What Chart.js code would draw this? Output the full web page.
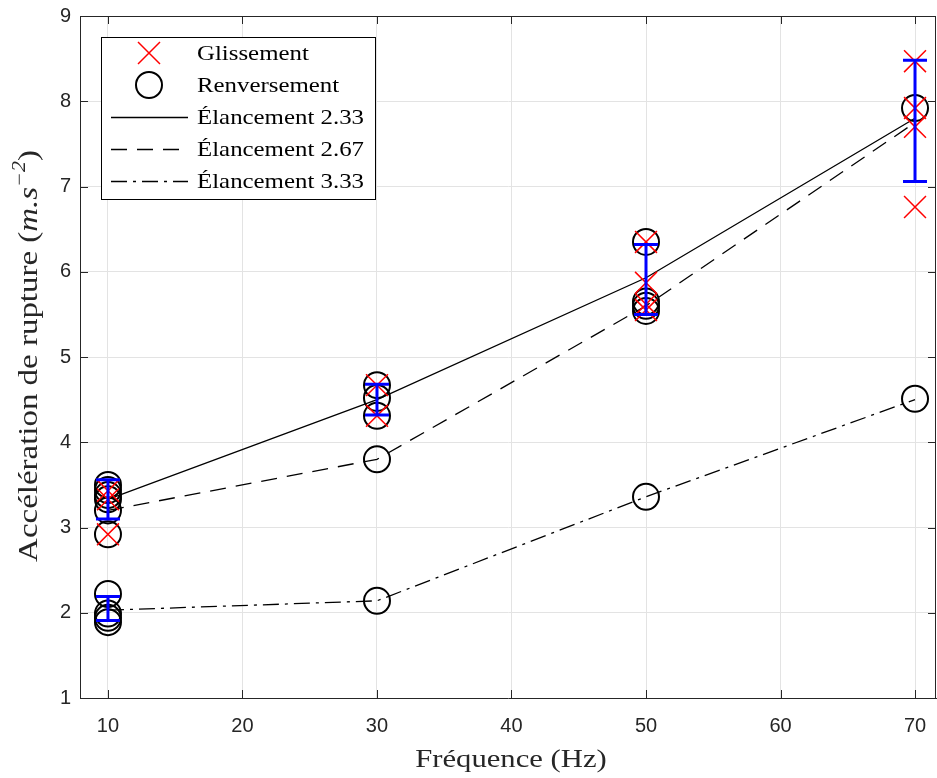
<!DOCTYPE html>
<html><head><meta charset="utf-8">
<script src="https://cdn.jsdelivr.net/npm/chart.js@4/dist/chart.umd.min.js"></script>
<style>html,body{margin:0;padding:0;background:#fff;overflow:hidden}#wrap{width:937px;height:778px;position:relative}canvas{display:block}</style>
</head><body><div id="wrap"><canvas id="c" width="937" height="778" style="width:937px;height:778px"></canvas></div>
<script>
const xTicks = [10, 20, 30, 40, 50, 60, 70];
const yTicks = [1, 2, 3, 4, 5, 6, 7, 8, 9];
const freq = [10, 30, 50, 70];
const el233 = [3.33, 4.50, 5.93, 7.80];
const el267 = [3.20, 3.80, 5.60, 7.75];
const el333 = [2.03, 2.14, 3.36, 4.50];
const glisX = [10, 10, 10, 30, 30, 50, 50, 50, 50, 70, 70, 70, 70];
const glisY = [3.43, 3.33, 2.92, 4.67, 4.31, 6.35, 5.87, 5.62, 5.55, 8.47, 7.92, 7.70, 6.76];
const renvX = [10, 10, 10, 10, 10, 10, 10, 10, 10, 10, 30, 30, 30, 30, 30, 50, 50, 50, 50, 50, 70, 70];
const renvY = [3.50, 3.44, 3.38, 3.33, 3.20, 2.92, 2.22, 1.99, 1.94, 1.89, 4.67, 4.52, 4.31, 3.80, 2.14, 6.35, 5.65, 5.60, 5.54, 3.36, 7.92, 4.51];
const errX = [10, 10, 30, 50, 70];
const errLow = [3.10, 1.91, 4.32, 5.50, 7.06];
const errHigh = [3.56, 2.19, 4.68, 6.32, 8.48];
const legendLabels = ['Glissement', 'Renversement', 'Élancement 2.33', 'Élancement 2.67', 'Élancement 3.33'];
const xTitle = 'Fréquence (Hz)';
const yTitleParts = ['Accélération de rupture (', 'm.s', '−2', ')'];

const pts = (xs, ys) => xs.map((x, i) => ({x: x, y: ys[i]}));
const AX = '#262626';
const SERIF = '"Liberation Serif", "DejaVu Serif", serif';

const errorBars = {
  id: 'errorBars',
  afterDatasetsDraw(chart) {
    const ctx = chart.ctx, xs = chart.scales.x, ys = chart.scales.y;
    ctx.save();
    ctx.strokeStyle = '#0000ff';
    ctx.lineWidth = 3;
    errX.forEach((v, i) => {
      const px = xs.getPixelForValue(v);
      const lo = ys.getPixelForValue(errLow[i]);
      const hi = ys.getPixelForValue(errHigh[i]);
      ctx.beginPath();
      ctx.moveTo(px, lo); ctx.lineTo(px, hi);
      ctx.moveTo(px - 12, lo); ctx.lineTo(px + 12, lo);
      ctx.moveTo(px - 12, hi); ctx.lineTo(px + 12, hi);
      ctx.stroke();
    });
    ctx.restore();
  }
};

function stretchedText(ctx, text, x, y, sx) {
  ctx.save();
  ctx.translate(x, y);
  ctx.scale(sx, 1);
  ctx.fillText(text, 0, 0);
  ctx.restore();
}

const frame = {
  id: 'frame',
  afterDraw(chart) {
    const ctx = chart.ctx, a = chart.chartArea, xs = chart.scales.x, ys = chart.scales.y;
    ctx.save();
    ctx.strokeStyle = AX;
    ctx.lineWidth = 1;
    ctx.beginPath();
    ctx.moveTo(a.left + 0.5, a.top + 0.5); ctx.lineTo(a.right - 0.5, a.top + 0.5); ctx.lineTo(a.right - 0.5, a.bottom);
    const tl = 8;
    xTicks.forEach(v => {
      const p = Math.round(xs.getPixelForValue(v)) + 0.5;
      ctx.moveTo(p, a.bottom); ctx.lineTo(p, a.bottom - tl);
      ctx.moveTo(p, a.top); ctx.lineTo(p, a.top + tl);
    });
    yTicks.forEach(v => {
      const p = Math.round(ys.getPixelForValue(v)) + 0.5;
      ctx.moveTo(a.left, p); ctx.lineTo(a.left + tl, p);
      ctx.moveTo(a.right, p); ctx.lineTo(a.right - tl, p);
    });
    ctx.stroke();

    ctx.fillStyle = AX;
    ctx.textBaseline = 'middle';
    ctx.textAlign = 'center';
    ctx.font = '26px ' + SERIF;
    stretchedText(ctx, xTitle, (a.left + a.right) / 2 + 3, 760, 1.18);

    ctx.save();
    ctx.translate(30, 356);
    ctx.rotate(-Math.PI / 2);
    ctx.scale(1.22, 1);
    const fN = '27px ' + SERIF, fI = 'italic 27px ' + SERIF, fS = 'italic 18px ' + SERIF;
    ctx.font = fN; const w0 = ctx.measureText(yTitleParts[0]).width, w3 = ctx.measureText(yTitleParts[3]).width;
    ctx.font = fI; const w1 = ctx.measureText(yTitleParts[1]).width;
    ctx.font = fS; const w2 = ctx.measureText(yTitleParts[2]).width;
    let x = -(w0 + w1 + w2 + w3) / 2;
    ctx.textAlign = 'left';
    ctx.font = fN; ctx.fillText(yTitleParts[0], x, 0); x += w0;
    ctx.font = fI; ctx.fillText(yTitleParts[1], x, 0); x += w1;
    ctx.font = fS; ctx.fillText(yTitleParts[2], x, -10); x += w2;
    ctx.font = fN; ctx.fillText(yTitleParts[3], x, 0);
    ctx.restore();

    const L = 101, T = 37, W = 274, H = 162;
    ctx.fillStyle = '#fff';
    ctx.fillRect(L, T, W, H);
    ctx.strokeStyle = '#000';
    ctx.lineWidth = 1;
    ctx.strokeRect(L + 0.5, T + 0.5, W, H);
    const rows = [53, 85, 117, 149, 181];
    const mx = 149;
    ctx.strokeStyle = '#ff0000'; ctx.lineWidth = 1.5;
    ctx.beginPath();
    ctx.moveTo(mx - 11, rows[0] - 11); ctx.lineTo(mx + 11, rows[0] + 11);
    ctx.moveTo(mx + 11, rows[0] - 11); ctx.lineTo(mx - 11, rows[0] + 11);
    ctx.stroke();
    ctx.strokeStyle = '#000'; ctx.lineWidth = 2;
    ctx.beginPath(); ctx.arc(mx, rows[1], 13, 0, Math.PI * 2); ctx.stroke();
    const dashes = [[], [16, 10], [16, 6, 3, 6]];
    ctx.lineWidth = 1.3;
    dashes.forEach((d, i) => {
      ctx.setLineDash(d);
      ctx.beginPath();
      ctx.moveTo(111, rows[i + 2] + 0.5); ctx.lineTo(188, rows[i + 2] + 0.5);
      ctx.stroke();
    });
    ctx.setLineDash([]);
    ctx.fillStyle = '#000';
    ctx.font = '22px ' + SERIF;
    ctx.textAlign = 'left';
    legendLabels.forEach((t, i) => stretchedText(ctx, t, 197, rows[i] + 1, 1.13));
    ctx.restore();
  }
};

const lineDs = (label, ys, dash) => ({
  type: 'scatter', label: label, data: pts(freq, ys), showLine: true,
  borderColor: '#000', backgroundColor: '#000', borderWidth: 1.3, borderDash: dash,
  pointRadius: 0, pointHoverRadius: 0, order: 3
});

const noPad = s => { s.paddingLeft = 0; s.paddingRight = 0; s.paddingTop = 0; s.paddingBottom = 0; };

new Chart(document.getElementById('c'), {
  type: 'scatter',
  data: {
    datasets: [
      lineDs(legendLabels[2], el233, []),
      lineDs(legendLabels[3], el267, [16, 10]),
      lineDs(legendLabels[4], el333, [16, 6, 3, 6]),
      { label: legendLabels[1], data: pts(renvX, renvY), pointStyle: 'circle', pointRadius: 13,
        borderColor: '#000', backgroundColor: 'rgba(0,0,0,0)', pointBorderWidth: 2, borderWidth: 2, order: 2 },
      { label: legendLabels[0], data: pts(glisX, glisY), pointStyle: 'crossRot', pointRadius: 15.5,
        borderColor: '#ff0000', backgroundColor: '#ff0000', pointBorderWidth: 1.5, borderWidth: 1.5, order: 1 }
    ]
  },
  options: {
    responsive: false, animation: false, devicePixelRatio: 1,
    layout: { autoPadding: false, padding: { top: 16, right: 1, left: 0, bottom: 0 } },
    plugins: { legend: { display: false }, tooltip: { enabled: false } },
    scales: {
      x: {
        type: 'linear', min: 7.92, max: 71.56,
        afterBuildTicks: s => { s.ticks = xTicks.map(v => ({ value: v })); },
        afterFit: s => { s.height = 80; noPad(s); },
        grid: { color: '#e3e3e3', drawTicks: false },
        border: { color: AX, width: 1 },
        ticks: { color: AX, font: { family: '"Liberation Sans", Arial, sans-serif', size: 20 }, padding: 16, maxRotation: 0 }
      },
      y: {
        type: 'linear', min: 1, max: 9,
        afterBuildTicks: s => { s.ticks = yTicks.map(v => ({ value: v })); },
        afterFit: s => { s.width = 80; noPad(s); },
        grid: { color: '#e3e3e3', drawTicks: false },
        border: { color: AX, width: 1 },
        ticks: { color: AX, font: { family: '"Liberation Sans", Arial, sans-serif', size: 20 }, padding: 9 }
      }
    }
  },
  plugins: [errorBars, frame]
});
</script></body></html>
